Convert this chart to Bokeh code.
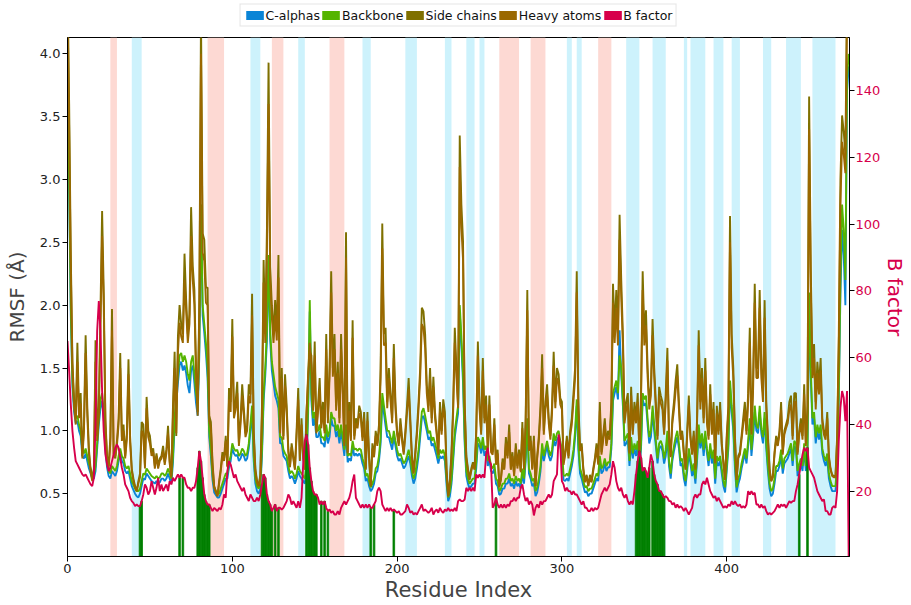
from bokeh.plotting import figure
from bokeh.models import (Range1d, LinearAxis, FixedTicker, Legend, LegendItem,
                          PrintfTickFormatter)
from bokeh.layouts import column
from bokeh.embed import file_html
from bokeh.resources import INLINE

# ---------------- data ----------------
residues = list(range(475))

side_chains = [
 4.60, 3.60, 2.40, 1.55, 1.25, 1.10, 1.70, 1.15, 1.30, 0.80,
 1.05, 1.76, 1.20, 0.85, 0.70, 0.62, 0.66, 1.72, 0.96, 1.20,
 1.95, 2.75, 2.10, 1.10, 0.80, 0.72, 0.95, 1.97, 0.82, 0.78,
 0.92, 1.10, 1.62, 0.95, 1.05, 0.80, 0.98, 1.57, 0.95, 0.70,
 0.62, 0.56, 0.52, 0.60, 0.66, 1.07, 1.05, 0.72, 1.27, 1.00,
 0.96, 0.83, 0.86, 0.72, 0.82, 0.72, 0.78, 0.80, 0.88, 0.75,
 0.85, 1.04, 0.76, 0.64, 1.20, 1.63, 0.96, 1.75, 2.00, 1.85,
 1.77, 2.41, 2.04, 1.77, 1.93, 2.78, 2.31, 2.12, 1.50, 1.15,
 2.04, 4.30, 2.57, 2.52, 2.14, 2.14, 1.12, 1.07, 0.75, 0.56,
 0.52, 0.48, 0.60, 0.70, 0.83, 0.78, 0.96, 0.72, 1.34, 1.23,
 1.89, 1.15, 1.23, 1.39, 0.91, 1.10, 1.37, 1.18, 0.98, 1.04,
 1.37, 1.29, 2.09, 1.00, 0.70, 0.60, 0.56, 0.65, 1.20, 2.36,
 1.77, 2.60, 3.93, 2.30, 2.00, 1.77, 2.04, 1.80, 2.40, 1.00,
 1.50, 0.96, 1.45, 1.20, 0.85, 0.72, 0.90, 0.80, 0.70, 1.00,
 1.34, 0.77, 1.10, 0.80, 0.70, 1.15, 1.40, 1.63, 1.60, 1.20,
 1.71, 1.00, 1.20, 1.42, 1.05, 1.23, 1.00, 1.77, 1.10, 1.50,
 2.27, 1.50, 1.77, 1.20, 1.55, 1.10, 1.77, 1.35, 0.90, 2.58,
 0.83, 1.23, 0.95, 1.88, 0.96, 1.10, 1.05, 1.20, 1.15, 0.95,
 1.15, 0.70, 1.15, 0.80, 0.56, 0.90, 0.80, 1.00, 0.90, 1.05,
 1.50, 2.65, 1.77, 1.82, 1.23, 1.50, 1.30, 1.10, 1.69, 1.23,
 1.00, 0.90, 1.10, 0.95, 0.83, 1.00, 1.20, 1.42, 1.10, 0.80,
 0.67, 0.83, 1.00, 1.23, 1.50, 1.98, 1.95, 1.77, 1.37, 1.20,
 1.50, 1.10, 1.43, 1.15, 1.00, 0.83, 1.23, 1.00, 1.25, 1.15,
 0.70, 0.48, 0.60, 0.83, 1.20, 1.82, 1.50, 1.20, 3.35, 2.80,
 2.51, 1.23, 0.80, 0.70, 0.62, 0.70, 0.75, 0.70, 1.00, 1.71,
 1.23, 1.00, 1.58, 1.10, 1.28, 0.86, 1.28, 0.85, 0.83, 1.10,
 0.75, 0.85, 0.56, 0.62, 0.78, 0.70, 0.95, 0.80, 1.05, 0.70,
 0.83, 0.65, 0.90, 0.72, 0.85, 0.68, 1.07, 0.70, 1.10, 2.12,
 0.86, 0.96, 0.70, 0.96, 0.56, 0.80, 0.96, 1.20, 1.61, 1.00,
 1.23, 1.37, 1.10, 0.96, 1.20, 1.63, 1.23, 1.50, 1.45, 1.26,
 1.23, 0.75, 0.83, 0.96, 0.80, 1.00, 1.10, 1.30, 1.50, 2.27,
 1.23, 0.86, 0.90, 0.70, 0.60, 0.65, 0.56, 0.65, 0.60, 0.70,
 0.78, 0.90, 0.75, 1.23, 0.83, 0.96, 1.10, 0.90, 1.00, 0.96,
 1.23, 2.17, 1.80, 2.12, 1.77, 2.72, 2.20, 1.77, 1.10, 1.23,
 1.30, 0.83, 1.35, 1.00, 1.23, 1.10, 1.30, 0.83, 1.30, 2.27,
 1.77, 1.96, 1.50, 1.23, 1.35, 1.89, 1.50, 1.23, 0.96, 1.35,
 1.28, 1.23, 1.00, 1.30, 1.66, 0.96, 0.80, 1.10, 1.23, 1.40,
 1.53, 1.23, 0.96, 1.00, 0.83, 0.70, 1.00, 1.28, 0.96, 0.83,
 1.00, 0.70, 1.10, 1.80, 1.23, 1.50, 1.10, 1.58, 1.10, 0.96,
 1.37, 1.00, 1.23, 0.75, 1.20, 1.00, 1.23, 0.90, 0.75, 0.61,
 0.96, 1.20, 2.71, 1.77, 1.50, 0.96, 0.61, 0.80, 0.83, 0.96,
 1.10, 1.23, 1.00, 1.30, 1.82, 1.00, 1.40, 2.17, 1.50, 1.50,
 2.12, 1.50, 1.30, 2.04, 1.23, 0.96, 0.70, 0.60, 0.64, 0.83,
 0.96, 0.90, 1.00, 1.23, 0.83, 1.00, 1.05, 1.10, 1.23, 1.28,
 0.96, 1.30, 1.30, 0.83, 1.00, 1.10, 0.96, 1.37, 0.90, 1.20,
 3.66, 2.30, 1.50, 1.69, 1.23, 1.55, 1.37, 1.58, 1.10, 1.00,
 0.96, 1.15, 0.80, 0.70, 0.65, 0.64, 0.64, 0.96, 1.77, 3.00,
 3.51, 3.38, 3.20, 4.50, 4.50]

heavy_atoms = [
 4.40, 3.40, 2.30, 1.50, 1.20, 1.05, 1.55, 1.10, 1.22, 0.78,
 1.00, 1.62, 1.12, 0.82, 0.68, 0.60, 0.70, 1.55, 0.92, 1.12,
 1.80, 2.55, 1.98, 1.05, 0.78, 0.70, 0.90, 1.80, 0.80, 0.80,
 0.88, 1.05, 1.50, 0.92, 1.00, 0.78, 0.93, 1.45, 0.90, 0.68,
 0.60, 0.55, 0.52, 0.58, 0.63, 1.00, 0.98, 0.70, 1.18, 0.95,
 0.90, 0.80, 0.83, 0.70, 0.80, 0.70, 0.76, 0.78, 0.84, 0.73,
 0.82, 0.98, 0.74, 0.63, 1.12, 1.50, 0.98, 1.62, 1.86, 1.75,
 1.70, 2.20, 1.95, 1.70, 1.85, 2.55, 2.20, 2.00, 1.45, 1.12,
 1.95, 4.00, 2.42, 2.35, 2.02, 2.00, 1.08, 1.02, 0.72, 0.55,
 0.51, 0.48, 0.58, 0.68, 0.80, 0.76, 0.92, 0.71, 1.25, 1.15,
 1.75, 1.10, 1.17, 1.30, 0.88, 1.05, 1.28, 1.12, 0.95, 1.00,
 1.28, 1.22, 1.92, 0.96, 0.68, 0.59, 0.56, 0.64, 1.12, 2.18,
 1.70, 2.40, 3.60, 2.18, 1.90, 1.70, 1.92, 1.72, 2.22, 0.98,
 1.42, 0.93, 1.36, 1.14, 0.83, 0.71, 0.87, 0.78, 0.69, 0.96,
 1.25, 0.76, 1.05, 0.78, 0.69, 1.12, 1.45, 1.70, 1.52, 1.16,
 1.60, 0.98, 1.15, 1.33, 1.02, 1.17, 0.98, 1.65, 1.06, 1.42,
 2.10, 1.43, 1.65, 1.16, 1.46, 1.06, 1.65, 1.28, 0.88, 2.38,
 0.82, 1.16, 0.92, 1.74, 0.93, 1.06, 1.02, 1.14, 1.10, 0.92,
 1.10, 0.69, 1.08, 0.78, 0.56, 0.86, 0.79, 0.96, 0.88, 1.00,
 1.42, 2.45, 1.68, 1.70, 1.18, 1.42, 1.24, 1.06, 1.58, 1.17,
 0.97, 0.88, 1.05, 0.92, 0.81, 0.96, 1.14, 1.33, 1.05, 0.78,
 0.66, 0.80, 0.96, 1.17, 1.42, 1.85, 1.82, 1.66, 1.30, 1.15,
 1.42, 1.06, 1.35, 1.10, 0.97, 0.81, 1.16, 0.97, 1.18, 1.10,
 0.68, 0.48, 0.59, 0.80, 1.14, 1.70, 1.43, 1.18, 3.10, 2.62,
 2.36, 1.18, 0.78, 0.68, 0.61, 0.68, 0.73, 0.69, 0.96, 1.60,
 1.17, 0.97, 1.48, 1.06, 1.21, 0.84, 1.21, 0.83, 0.81, 1.05,
 0.73, 0.82, 0.55, 0.61, 0.75, 0.69, 0.90, 0.78, 0.99, 0.69,
 0.80, 0.64, 0.86, 0.70, 0.82, 0.67, 1.02, 0.69, 1.05, 1.96,
 0.84, 0.92, 0.69, 0.92, 0.56, 0.78, 0.92, 1.14, 1.50, 0.97,
 1.17, 1.29, 1.06, 0.93, 1.14, 1.52, 1.18, 1.42, 1.38, 1.21,
 1.17, 0.73, 0.81, 0.92, 0.78, 0.96, 1.05, 1.23, 1.42, 2.10,
 1.17, 0.84, 0.87, 0.69, 0.59, 0.64, 0.56, 0.63, 0.59, 0.68,
 0.76, 0.86, 0.73, 1.16, 0.81, 0.92, 1.05, 0.88, 0.96, 0.93,
 1.17, 2.02, 1.70, 1.98, 1.68, 2.52, 2.06, 1.68, 1.06, 1.17,
 1.22, 0.82, 1.28, 0.97, 1.17, 1.06, 1.23, 0.82, 1.23, 2.12,
 1.68, 1.84, 1.43, 1.17, 1.28, 1.76, 1.43, 1.17, 0.93, 1.28,
 1.22, 1.17, 0.97, 1.23, 1.56, 0.93, 0.79, 1.06, 1.17, 1.32,
 1.44, 1.17, 0.93, 0.97, 0.81, 0.69, 0.96, 1.21, 0.93, 0.81,
 0.96, 0.69, 1.06, 1.68, 1.17, 1.42, 1.06, 1.48, 1.06, 0.93,
 1.29, 0.97, 1.17, 0.74, 1.14, 0.97, 1.17, 0.88, 0.74, 0.61,
 0.93, 1.14, 2.50, 1.66, 1.42, 0.93, 0.61, 0.78, 0.81, 0.93,
 1.05, 1.17, 0.97, 1.23, 1.70, 0.97, 1.32, 2.02, 1.42, 1.42,
 1.98, 1.42, 1.23, 1.90, 1.17, 0.93, 0.69, 0.60, 0.63, 0.81,
 0.93, 0.88, 0.97, 1.17, 0.81, 0.97, 1.02, 1.06, 1.17, 1.21,
 0.93, 1.23, 1.23, 0.81, 0.97, 1.06, 0.93, 1.29, 0.88, 1.14,
 3.40, 2.16, 1.42, 1.58, 1.17, 1.46, 1.29, 1.48, 1.06, 0.97,
 0.93, 1.10, 0.78, 0.69, 0.64, 0.63, 0.63, 0.93, 1.66, 2.80,
 3.30, 3.20, 3.05, 4.30, 4.40]

backbone = [
 4.00, 3.00, 2.00, 1.40, 1.20, 1.10, 1.12, 1.05, 1.00, 0.85,
 0.82, 0.86, 0.80, 0.74, 0.70, 0.66, 0.65, 0.72, 0.90, 1.10,
 1.25, 1.30, 1.15, 0.90, 0.75, 0.68, 0.66, 0.72, 0.70, 0.68,
 0.72, 0.80, 0.86, 0.80, 0.78, 0.72, 0.70, 0.72, 0.66, 0.60,
 0.57, 0.54, 0.52, 0.52, 0.54, 0.60, 0.66, 0.65, 0.70, 0.68,
 0.66, 0.64, 0.63, 0.62, 0.64, 0.62, 0.63, 0.66, 0.66, 0.64,
 0.66, 0.70, 0.66, 0.62, 0.80, 1.10, 1.30, 1.45, 1.60, 1.62,
 1.55, 1.60, 1.55, 1.45, 1.40, 1.55, 1.60, 1.45, 1.30, 1.20,
 1.70, 2.80, 2.00, 1.85, 1.70, 1.50, 1.00, 0.85, 0.65, 0.55,
 0.52, 0.50, 0.50, 0.54, 0.58, 0.62, 0.66, 0.66, 0.75, 0.80,
 0.90, 0.86, 0.84, 0.85, 0.80, 0.82, 0.86, 0.84, 0.80, 0.82,
 0.90, 1.05, 1.20, 0.80, 0.62, 0.56, 0.54, 0.58, 0.85, 1.30,
 1.50, 1.80, 2.40, 1.80, 1.55, 1.45, 1.35, 1.30, 1.25, 0.95,
 0.95, 0.85, 0.82, 0.80, 0.72, 0.66, 0.68, 0.66, 0.62, 0.66,
 0.72, 0.68, 0.66, 0.64, 0.62, 0.75, 1.20, 2.04, 1.30, 1.10,
 1.15, 1.00, 1.00, 1.05, 0.95, 0.95, 0.92, 1.05, 0.95, 1.00,
 1.15, 1.10, 1.10, 1.00, 1.05, 0.95, 1.05, 0.95, 0.85, 1.05,
 0.80, 0.82, 0.80, 0.92, 0.85, 0.86, 0.84, 0.86, 0.85, 0.78,
 0.74, 0.64, 0.66, 0.60, 0.55, 0.58, 0.62, 0.70, 0.72, 0.80,
 0.95, 1.30, 1.20, 1.10, 1.00, 1.00, 0.95, 0.90, 1.00, 0.92,
 0.85, 0.80, 0.82, 0.78, 0.74, 0.76, 0.80, 0.85, 0.78, 0.68,
 0.62, 0.66, 0.75, 0.85, 1.00, 1.15, 1.18, 1.12, 1.05, 0.98,
 1.00, 0.92, 0.95, 0.90, 0.85, 0.78, 0.85, 0.82, 0.85, 0.80,
 0.62, 0.47, 0.52, 0.62, 0.80, 1.00, 1.10, 1.20, 2.00, 1.75,
 1.45, 0.95, 0.68, 0.62, 0.58, 0.60, 0.62, 0.62, 0.75, 0.95,
 0.92, 0.86, 0.95, 0.85, 0.88, 0.76, 0.80, 0.72, 0.70, 0.74,
 0.62, 0.60, 0.52, 0.54, 0.58, 0.58, 0.62, 0.62, 0.66, 0.60,
 0.62, 0.58, 0.64, 0.60, 0.62, 0.58, 0.70, 0.62, 0.80, 1.10,
 0.70, 0.66, 0.60, 0.62, 0.52, 0.55, 0.62, 0.72, 0.90, 0.80,
 0.86, 0.92, 0.85, 0.80, 0.85, 0.98, 0.92, 0.98, 1.00, 0.92,
 0.85, 0.65, 0.64, 0.66, 0.64, 0.70, 0.76, 0.85, 1.00, 1.25,
 0.90, 0.70, 0.66, 0.60, 0.55, 0.56, 0.52, 0.54, 0.54, 0.58,
 0.62, 0.66, 0.64, 0.80, 0.70, 0.72, 0.78, 0.72, 0.75, 0.75,
 0.90, 1.30, 1.35, 1.40, 1.30, 1.60, 1.50, 1.25, 0.92, 0.95,
 0.98, 0.76, 0.95, 0.82, 0.90, 0.85, 0.92, 0.72, 0.90, 1.30,
 1.25, 1.28, 1.10, 0.95, 1.00, 1.20, 1.05, 0.92, 0.78, 0.90,
 0.92, 0.88, 0.78, 0.85, 1.00, 0.76, 0.66, 0.80, 0.88, 0.95,
 1.00, 0.90, 0.76, 0.78, 0.66, 0.60, 0.72, 0.86, 0.78, 0.68,
 0.74, 0.62, 0.80, 1.05, 0.90, 0.98, 0.85, 1.00, 0.86, 0.76,
 0.90, 0.78, 0.85, 0.62, 0.80, 0.76, 0.80, 0.70, 0.60, 0.55,
 0.72, 0.90, 1.40, 1.20, 1.05, 0.75, 0.55, 0.62, 0.66, 0.74,
 0.80, 0.86, 0.78, 0.92, 1.10, 0.85, 1.00, 1.20, 1.05, 1.02,
 1.20, 1.02, 0.95, 1.15, 0.90, 0.72, 0.58, 0.52, 0.54, 0.62,
 0.72, 0.72, 0.76, 0.85, 0.70, 0.78, 0.80, 0.82, 0.86, 0.90,
 0.76, 0.92, 0.90, 0.68, 0.74, 0.78, 0.72, 0.90, 0.72, 0.85,
 2.10, 1.50, 1.10, 1.15, 0.95, 1.05, 0.98, 1.05, 0.86, 0.80,
 0.76, 0.82, 0.66, 0.60, 0.56, 0.56, 0.56, 0.75, 1.30, 2.20,
 2.80, 2.60, 2.20, 3.80, 4.00]

c_alphas = [
 3.90, 2.90, 1.92, 1.35, 1.15, 1.06, 1.08, 1.00, 0.96, 0.80,
 0.78, 0.82, 0.76, 0.70, 0.66, 0.62, 0.62, 0.68, 0.86, 1.05,
 1.18, 1.24, 1.10, 0.85, 0.71, 0.64, 0.62, 0.68, 0.66, 0.64,
 0.68, 0.76, 0.82, 0.76, 0.74, 0.68, 0.66, 0.68, 0.62, 0.56,
 0.53, 0.50, 0.48, 0.47, 0.50, 0.56, 0.62, 0.61, 0.66, 0.64,
 0.62, 0.60, 0.59, 0.58, 0.60, 0.58, 0.59, 0.62, 0.62, 0.60,
 0.62, 0.66, 0.62, 0.58, 0.75, 1.04, 1.22, 1.38, 1.52, 1.55,
 1.48, 1.52, 1.46, 1.36, 1.30, 1.48, 1.52, 1.38, 1.22, 1.12,
 1.62, 2.80, 1.92, 1.78, 1.62, 1.42, 0.95, 0.80, 0.61, 0.51,
 0.49, 0.47, 0.47, 0.50, 0.54, 0.58, 0.62, 0.62, 0.71, 0.76,
 0.86, 0.82, 0.80, 0.81, 0.76, 0.78, 0.82, 0.80, 0.76, 0.78,
 0.86, 1.00, 1.15, 0.76, 0.58, 0.52, 0.50, 0.54, 0.80, 1.24,
 1.44, 1.72, 2.35, 1.72, 1.48, 1.38, 1.28, 1.24, 1.18, 0.90,
 0.90, 0.80, 0.78, 0.76, 0.68, 0.62, 0.64, 0.62, 0.58, 0.62,
 0.68, 0.64, 0.62, 0.60, 0.58, 0.70, 1.14, 1.95, 1.24, 1.04,
 1.10, 0.95, 0.95, 1.00, 0.90, 0.90, 0.87, 1.00, 0.90, 0.95,
 1.10, 1.04, 1.04, 0.95, 1.00, 0.90, 1.00, 0.90, 0.80, 1.00,
 0.75, 0.78, 0.76, 0.88, 0.80, 0.82, 0.80, 0.82, 0.80, 0.74,
 0.70, 0.60, 0.62, 0.56, 0.52, 0.54, 0.58, 0.66, 0.68, 0.76,
 0.90, 1.24, 1.14, 1.04, 0.95, 0.95, 0.90, 0.85, 0.95, 0.88,
 0.80, 0.76, 0.78, 0.74, 0.70, 0.72, 0.76, 0.80, 0.74, 0.64,
 0.58, 0.62, 0.70, 0.80, 0.95, 1.10, 1.12, 1.06, 1.00, 0.93,
 0.95, 0.88, 0.90, 0.85, 0.80, 0.74, 0.80, 0.78, 0.80, 0.76,
 0.58, 0.44, 0.48, 0.58, 0.76, 0.95, 1.05, 1.14, 1.95, 1.68,
 1.38, 0.90, 0.64, 0.58, 0.54, 0.56, 0.58, 0.58, 0.70, 0.90,
 0.88, 0.82, 0.90, 0.80, 0.84, 0.72, 0.76, 0.68, 0.66, 0.70,
 0.58, 0.56, 0.49, 0.50, 0.54, 0.54, 0.58, 0.58, 0.62, 0.56,
 0.58, 0.54, 0.60, 0.56, 0.58, 0.54, 0.66, 0.58, 0.76, 1.04,
 0.66, 0.62, 0.56, 0.58, 0.48, 0.51, 0.58, 0.68, 0.85, 0.76,
 0.82, 0.88, 0.80, 0.76, 0.80, 0.93, 0.88, 0.93, 0.95, 0.88,
 0.80, 0.61, 0.60, 0.62, 0.60, 0.66, 0.72, 0.80, 0.95, 1.20,
 0.85, 0.66, 0.62, 0.56, 0.51, 0.52, 0.48, 0.50, 0.50, 0.54,
 0.58, 0.62, 0.60, 0.76, 0.66, 0.68, 0.74, 0.68, 0.71, 0.71,
 0.86, 1.24, 1.30, 1.35, 1.25, 1.80, 1.45, 1.20, 0.88, 0.90,
 0.93, 0.72, 0.90, 0.78, 0.86, 0.80, 0.88, 0.68, 0.86, 1.25,
 1.20, 1.22, 1.05, 0.90, 0.95, 1.15, 1.00, 0.88, 0.74, 0.86,
 0.88, 0.84, 0.74, 0.80, 0.95, 0.72, 0.62, 0.76, 0.84, 0.90,
 0.95, 0.86, 0.72, 0.74, 0.62, 0.56, 0.68, 0.82, 0.74, 0.64,
 0.70, 0.58, 0.76, 1.00, 0.86, 0.94, 0.80, 0.95, 0.82, 0.72,
 0.86, 0.74, 0.80, 0.58, 0.76, 0.72, 0.76, 0.66, 0.56, 0.51,
 0.68, 0.86, 1.35, 1.15, 1.00, 0.70, 0.51, 0.58, 0.62, 0.70,
 0.76, 0.82, 0.74, 0.88, 1.05, 0.80, 0.95, 1.15, 1.00, 0.98,
 1.15, 0.98, 0.90, 1.10, 0.86, 0.68, 0.54, 0.48, 0.50, 0.58,
 0.68, 0.68, 0.72, 0.80, 0.66, 0.74, 0.76, 0.78, 0.82, 0.86,
 0.72, 0.88, 0.86, 0.64, 0.70, 0.74, 0.68, 0.86, 0.68, 0.80,
 2.00, 1.42, 1.05, 1.10, 0.90, 1.00, 0.93, 1.00, 0.82, 0.76,
 0.72, 0.78, 0.62, 0.56, 0.52, 0.52, 0.52, 0.70, 1.25, 2.10,
 2.60, 2.40, 2.00, 3.70, 3.90]

b_factor = [
 65, 56, 46, 38, 33, 29, 28, 27, 26, 25,
 24.5, 25, 24, 23, 22, 21.5, 24, 40, 68, 77,
 68, 50, 38, 31, 28, 26, 27, 29, 31, 33,
 34, 33, 30, 27, 25, 22, 21, 20, 18, 17,
 16.5, 15.5, 16, 15.5, 15.5, 17, 19, 22, 21, 19,
 20, 23, 21, 19, 21, 24, 20, 22, 20, 21,
 22, 20, 23, 22, 24, 23, 24, 25, 24, 25,
 24, 24, 22, 21, 21, 20, 21, 21, 23, 27,
 32, 29, 24, 19, 17, 16, 16, 15, 14, 15,
 14.5, 14, 15, 14.5, 16, 19, 18, 26, 29, 28,
 26, 24, 25, 23, 22, 21, 20, 21, 19, 18,
 17, 19, 18, 17, 17, 18, 17, 19, 22, 25,
 24, 19, 17, 16, 14, 15, 16, 14, 15, 15,
 14.5, 15, 16, 17, 19, 18, 16, 17, 16, 15,
 17, 15, 18, 28, 35, 37, 34, 27, 23, 20,
 19, 19, 18, 16, 17, 16, 17, 15, 14, 14.5,
 13.5, 14, 13, 13, 14, 13, 15, 16, 17, 16,
 17, 18, 20, 23, 25, 18, 17, 16, 15, 16,
 15, 16, 15, 16, 15, 15, 16, 17, 20, 21,
 20, 16, 15, 14, 15, 14, 15, 14, 14.5, 14,
 13.5, 14, 13, 13, 13.5, 14, 16, 15, 13.5, 14,
 13, 13.5, 13, 14, 15, 16, 14, 14.5, 14, 13.5,
 14, 15, 13, 14, 14.5, 13.5, 15, 14, 13.5, 14.5,
 14, 15, 14, 14.5, 14, 15, 14, 17, 17.5, 17,
 17, 17.5, 21, 20, 21, 20, 21, 20, 25, 24,
 25, 24, 25, 24, 31, 33, 29, 28, 15, 16,
 18, 16, 15, 16, 15, 16, 15, 16, 15.5, 17,
 17, 18, 17, 18, 18, 21, 22, 19, 17, 18,
 16, 17, 16, 12.7, 15, 16, 15, 17, 16, 17,
 17, 18, 19, 18, 19, 23, 24, 25, 37, 34,
 23, 22, 20, 21, 20, 20, 19, 20, 19, 19,
 18, 17, 16, 17, 15, 15, 14, 14, 15, 14,
 15, 14.5, 15, 17, 19, 20, 21, 20, 21, 22,
 25, 29, 27, 23, 21, 20, 21, 19, 18, 19,
 17, 16, 17, 16, 20, 25, 29, 32, 30, 26,
 27, 26, 24, 27, 31, 29, 25, 23, 22, 20,
 20, 19, 18, 18.5, 18, 17, 17, 16, 16.5, 15,
 16, 15, 15.5, 15, 14, 15, 14, 13, 14, 15,
 18, 19, 18, 19, 19, 22, 23, 22, 24, 22,
 20, 19, 18, 18.5, 17, 18, 17, 16, 15, 15.5,
 15, 16, 15.5, 17, 16, 17, 16, 15.5, 16, 15,
 15.5, 15, 16, 20, 19, 20, 19, 19.5, 16, 16,
 15, 16, 15, 15.5, 14, 13, 13.5, 13, 13.5, 14,
 15, 16, 15, 16, 15.5, 16, 15, 16, 17, 16.5,
 17, 17, 20, 22, 25, 28, 31, 33, 32, 33,
 27, 26, 25, 24, 22, 20, 19, 18, 17, 17.5,
 14, 14, 13, 13, 15, 15.5, 15, 20, 35, 45,
 50, 48, 41, 50, 0.4]

# secondary structure spans (residue start, end)
helix_start = [26, 85, 124, 159, 262, 281, 322]
helix_end = [30, 95, 131, 168, 274, 290, 330]
strand_start = [39, 111, 140, 179, 205, 229, 242, 250, 303, 309, 339, 355,
                374, 378, 392, 403, 422, 436, 452]
strand_end = [45, 117, 144, 184, 212, 233, 247, 253, 306, 312, 347, 363,
              376, 387, 398, 408, 427, 445, 466]

# residues in contact (green)
contacts = ([44, 45, 68, 70] + list(range(79, 87)) + list(range(118, 125)) +
            [126, 128] + list(range(145, 152)) + [154, 156, 158, 184, 186, 198, 260] +
            list(range(345, 354)) + list(range(355, 363)) + [444, 449])

series_names = ["C-alphas", "Backbone", "Side chains", "Heavy atoms", "B factor"]
series_colors = ["#0a84d6", "#55b400", "#7f7000", "#9a6800", "#d7004b"]

# ---------------- figure ----------------
FONT = "DejaVu Sans"
y_lo, y_hi = 0.0, 4.13
b_lo, b_hi = 0.4, 156.0
W = 910

p = figure(width=W, height=574, x_range=Range1d(0, 474.5), y_range=Range1d(y_lo, y_hi),
           output_backend="svg", toolbar_location=None,
           min_border_left=67, min_border_right=58, min_border_top=7, min_border_bottom=46)
p.extra_y_ranges = {"b": Range1d(b_lo, b_hi)}
p.xgrid.visible = False
p.ygrid.visible = False
p.outline_line_color = "black"
p.outline_line_width = 1
p.background_fill_color = "white"
p.border_fill_color = "white"

# shaded secondary-structure bands
p.quad(left=helix_start, right=helix_end, bottom=y_lo, top=y_hi,
       fill_color="#fdd9d3", line_color=None)
p.quad(left=strand_start, right=strand_end, bottom=y_lo, top=y_hi,
       fill_color="#cdf2fc", line_color=None)

lw = 1.9
p.line(residues, c_alphas, line_color=series_colors[0], line_width=lw)
p.line(residues, backbone, line_color=series_colors[1], line_width=lw)
p.line(residues, side_chains, line_color=series_colors[2], line_width=lw)
p.line(residues, heavy_atoms, line_color=series_colors[3], line_width=lw)

# contacts (filled up to B factor)
p.vbar(x=contacts, width=1.0, bottom=b_lo, top=[b_factor[i] for i in contacts],
       fill_color="#008000", line_color="#008000", line_width=0.8, y_range_name="b")
p.line(residues, b_factor, line_color=series_colors[4], line_width=lw, y_range_name="b")

# axes
def style_axis(ax, label_color="#222222", title_size="20px"):
    ax.axis_line_color = "black"
    ax.major_tick_line_color = "black"
    ax.major_tick_out = 5
    ax.major_tick_in = 0
    ax.minor_tick_line_color = None
    ax.major_label_text_font = FONT
    ax.major_label_text_font_size = "13px"
    ax.major_label_text_color = label_color
    ax.major_label_standoff = 2
    ax.axis_label_text_font = FONT
    ax.axis_label_text_font_size = title_size
    ax.axis_label_text_font_style = "normal"
    ax.axis_label_standoff = 2

p.xaxis.ticker = FixedTicker(ticks=[0, 100, 200, 300, 400])
p.xaxis.axis_label = "Residue Index"
style_axis(p.xaxis[0], title_size="21px")
p.yaxis.ticker = FixedTicker(ticks=[0.5, 1.0, 1.5, 2.0, 2.5, 3.0, 3.5, 4.0])
p.yaxis.formatter = PrintfTickFormatter(format="%.1f")
p.yaxis.axis_label = "RMSF (Å)"
style_axis(p.yaxis[0])
p.yaxis[0].axis_label_standoff = 8

raxis = LinearAxis(y_range_name="b", axis_label="B factor",
                   ticker=FixedTicker(ticks=[20, 40, 60, 80, 100, 120, 140]))
style_axis(raxis, series_colors[4])
raxis.major_label_standoff = 1
raxis.axis_label_standoff = 0
raxis.axis_label_text_color = series_colors[4]
p.add_layout(raxis, "right")

# legend strip above the plot (patch handles, no data drawn)
lg = figure(width=W, height=30, toolbar_location=None, output_backend="svg",
            x_range=Range1d(0, 1), y_range=Range1d(0, 1), min_border=0)
lg.axis.visible = False
lg.xgrid.visible = False
lg.ygrid.visible = False
lg.outline_line_color = None
nan = float("nan")
items = []
for name, col in zip(series_names, series_colors):
    r = lg.quad(left=[nan], right=[nan], top=[nan], bottom=[nan], fill_color=col, line_color=None)
    items.append(LegendItem(label=name, renderers=[r]))
legend = Legend(items=items, orientation="horizontal", location="center",
                spacing=0, label_standoff=0, glyph_width=22, glyph_height=11,
                label_height=13, padding=3, margin=0,
                label_text_font=FONT, label_text_font_size="12.5px",
                label_text_color="#111111",
                border_line_color="#cccccc", border_line_width=1,
                background_fill_alpha=1)
lg.add_layout(legend, "center")

layout = column(lg, p, spacing=0)
open("out.html", "w").write(file_html(layout, INLINE))
